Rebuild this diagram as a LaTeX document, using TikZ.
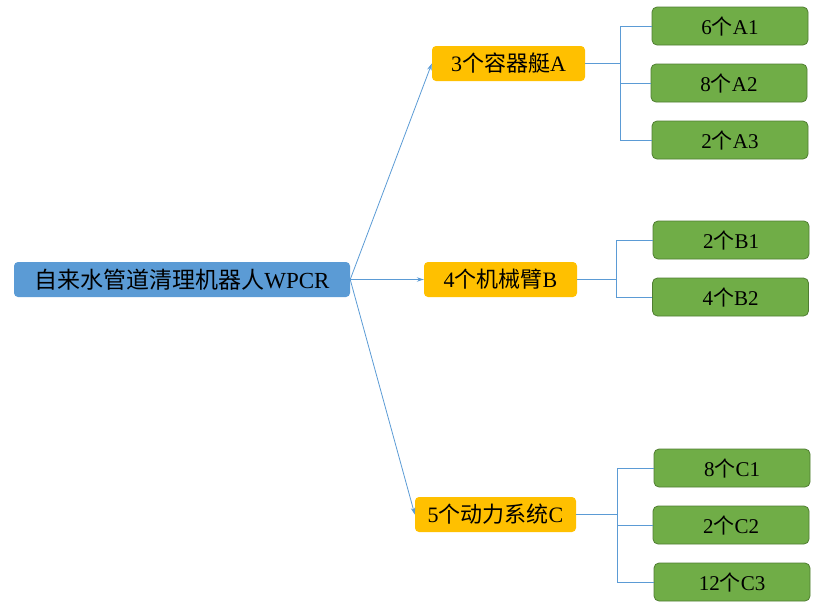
\documentclass[tikz,border=0pt]{standalone}
\usepackage{fontspec}
\setmainfont{Liberation Serif}
\newfontfamily\cjk{Noto Sans CJK SC}
\usetikzlibrary{arrows.meta, positioning}
\definecolor{rootblue}{HTML}{5B9BD5}
\definecolor{partgold}{HTML}{FFC000}
\definecolor{leafgreen}{HTML}{70AD47}
\definecolor{leafedge}{HTML}{507E32}
\definecolor{linkblue}{HTML}{5B9BD5}
\newcommand{\zh}[1]{{\cjk #1}}
\tikzset{
  rootbox/.style={rectangle, fill=rootblue, rounded corners=4pt, inner sep=0pt,
                  minimum width=336pt, minimum height=35pt, align=center,
                  font=\fontsize{23}{26}\selectfont},
  partbox/.style={rectangle, fill=partgold, rounded corners=4pt, inner sep=0pt,
                  minimum width=153pt, minimum height=35pt, align=center,
                  font=\fontsize{22}{25}\selectfont},
  leafbox/.style={rectangle, draw=leafedge, fill=leafgreen, rounded corners=5pt,
                  inner sep=0pt, line width=0.8pt, minimum width=156pt,
                  minimum height=38pt, align=center,
                  font=\fontsize{21}{24}\selectfont},
  arrow/.style={-{Stealth[length=7pt, width=4.5pt]}, draw=linkblue, line width=0.8pt},
  link/.style={draw=linkblue, line width=0.8pt},
}
\begin{document}
\begin{tikzpicture}[x=1pt, y=-1pt]
  \useasboundingbox (0,0) rectangle (831,611);
  % Root
  \node[rootbox] (wpcr) at (182,279.5) {\zh{自来水管道清理机器人}WPCR};

  % Parts
  \node[partbox] (boat) at (508.5,63.5) {3\zh{个容器艇}A};
  \node[partbox] (arm) at (500.5,279.5) {4\zh{个机械臂}B};
  \node[partbox, minimum width=161pt] (power) at (495.5,514.5) {5\zh{个动力系统}C};

  % Leaves
  \node[leafbox] (a1) at (730,26) {6\zh{个}A1};
  \node[leafbox] (a2) at (729,83) {8\zh{个}A2};
  \node[leafbox] (a3) at (730,140) {2\zh{个}A3};
  \node[leafbox] (b1) at (731,240) {2\zh{个}B1};
  \node[leafbox] (b2) at (730.5,297) {4\zh{个}B2};
  \node[leafbox] (c1) at (732,468) {8\zh{个}C1};
  \node[leafbox] (c2) at (731,525) {2\zh{个}C2};
  \node[leafbox] (c3) at (732,582) {12\zh{个}C3};

  % Edges
  \draw[arrow] (wpcr.east) -- (boat.west);
  \draw[arrow] (wpcr.east) -- (arm.west);
  \draw[arrow] (wpcr.east) -- (power.west);

  \foreach \n in {a1,a2,a3}
    \draw[link] (boat.east) -- ++(35,0) |- (\n.west);
  \foreach \n in {b1,b2}
    \draw[link] (arm.east) -- ++(39,0) |- (\n.west);
  \foreach \n in {c1,c2,c3}
    \draw[link] (power.east) -- ++(41,0) |- (\n.west);
\end{tikzpicture}
\end{document}
